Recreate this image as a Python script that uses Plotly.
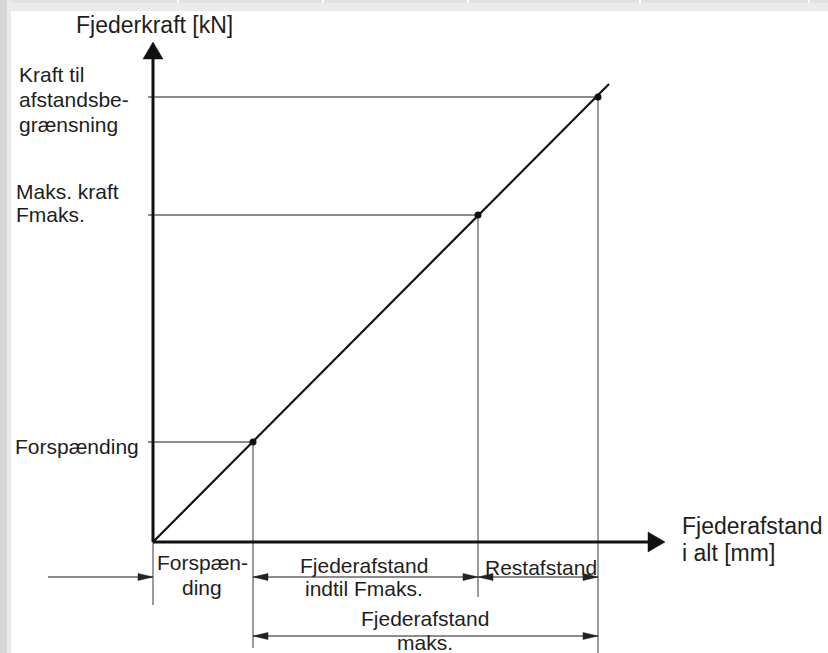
import plotly.graph_objects as go

# ---------------- data (arbitrary units, spring characteristic) ----------------
point_names = ["Forspænding", "Fmaks.", "Afstandsbegrænsning"]
deflection = [100, 325, 445]          # spring travel at the three points
force = [100, 327, 445]               # spring force at the three points
line_end = [456, 458]                 # end of the characteristic line (travel, force)
axis_len_x = 512
axis_len_y = 500

# y-axis labels: lines and y of each line
ylab_lines = [["Kraft til", "afstandsbe-", "grænsning"], ["Maks. kraft", "Fmaks."], ["Forspænding"]]
ylab_y = [[468, 443, 418], [351, 328], [96]]
ylab_x = [-136, -139, -140]

# dimension texts below the axis: lines, centre x, y of each line
dim_lines = [["Forspæn-", "ding"], ["Fjederafstand", "indtil Fmaks."], ["Restafstand"], ["Fjederafstand", "maks."]]
dim_x = [49, 211, 388, 272]
dim_y = [[-20, -45], [-23, -46], [-25], [-76, -100]]
dim_row_y = [-35, -94]

y_title = "Fjederkraft [kN]"
x_title_lines = ["Fjederafstand", "i alt [mm]"]

FONT = "Liberation Sans, Arial, sans-serif"
TXT = "#1e1e1e"
THIN = "#666666"

fig = go.Figure()


def seg(x0, y0, x1, y1, color=THIN, width=1.3):
    fig.add_trace(go.Scatter(x=[x0, x1], y=[y0, y1], mode="lines",
                             line=dict(color=color, width=width),
                             hoverinfo="skip", showlegend=False))


def head(xt, yt, dx, dy, length, half, color):
    nx, ny = -dy, dx
    xs = [xt, xt - length * dx + half * nx, xt - length * dx - half * nx, xt]
    ys = [yt, yt - length * dy + half * ny, yt - length * dy - half * ny, yt]
    fig.add_trace(go.Scatter(x=xs, y=ys, mode="lines", fill="toself",
                             fillcolor=color, line=dict(color=color, width=0.5),
                             hoverinfo="skip", showlegend=False))


# guide lines (horizontal from y-axis, vertical down to dimension lines)
v_bottom = [-106, -55, -115]
for s, f, vb in zip(deflection, force, v_bottom):
    seg(-5, f, s, f)
    seg(s, f, s, vb)
seg(0, 0, 0, -63)

# dimension arrows
seg(-105, dim_row_y[0], 0, dim_row_y[0])
head(0, dim_row_y[0], 1, 0, 15, 3.5, "#222")
seg(deflection[0], dim_row_y[0], deflection[1], dim_row_y[0])
head(deflection[0], dim_row_y[0], -1, 0, 15, 3.5, "#222")
head(deflection[1], dim_row_y[0], 1, 0, 15, 3.5, "#222")
seg(deflection[1], dim_row_y[0], deflection[2], dim_row_y[0])
head(deflection[1], dim_row_y[0], -1, 0, 15, 3.5, "#222")
head(deflection[2], dim_row_y[0], 1, 0, 15, 3.5, "#222")
seg(deflection[0], dim_row_y[1], deflection[2], dim_row_y[1])
head(deflection[0], dim_row_y[1], -1, 0, 15, 3.5, "#222")
head(deflection[2], dim_row_y[1], 1, 0, 15, 3.5, "#222")

# characteristic line
fig.add_trace(go.Scatter(x=[0, line_end[0]], y=[0, line_end[1]], mode="lines",
                         line=dict(color="#111111", width=2.2),
                         hoverinfo="skip", showlegend=False))
fig.add_trace(go.Scatter(x=deflection, y=force, mode="markers", text=point_names,
                         marker=dict(color="#111111", size=7),
                         hoverinfo="text", showlegend=False))

# axes with arrows
seg(0, 0, axis_len_x - 15, 0, color="#111111", width=3)
head(axis_len_x, 0, 1, 0, 17, 10, "#111111")
seg(0, 0, 0, axis_len_y - 15, color="#111111", width=3)
head(0, axis_len_y, 0, 1, 17, 10, "#111111")

ann = []


def txt(x, y, t, size=21, xanchor="left"):
    ann.append(dict(x=x, y=y, text=t, showarrow=False, xanchor=xanchor, yanchor="middle",
                    font=dict(family=FONT, size=size, color=TXT)))


txt(1, 517, y_title, size=23, xanchor="center")
for lines, ys, x in zip(ylab_lines, ylab_y, ylab_x):
    for t, y in zip(lines, ys):
        txt(x, y, t)
for lines, ys, x in zip(dim_lines, dim_y, dim_x):
    for t, y in zip(lines, ys):
        txt(x, y, t, xanchor="center")
for t, y in zip(x_title_lines, [16, -11]):
    txt(527, y, t, size=23)

# page frame decoration (grey strips at top and left)
W, H = 828, 653
shapes = [
    dict(type="rect", xref="paper", yref="paper", x0=0, x1=1, y0=1 - 11 / H, y1=1,
         fillcolor="#ebebeb", line=dict(width=0), layer="below"),
    dict(type="rect", xref="paper", yref="paper", x0=0, x1=1, y0=1 - 3 / H, y1=1,
         fillcolor="#e2e2e2", line=dict(width=0), layer="below"),
    dict(type="rect", xref="paper", yref="paper", x0=0, x1=11 / W, y0=0, y1=1,
         fillcolor="#ebebeb", line=dict(width=0), layer="below"),
    dict(type="rect", xref="paper", yref="paper", x0=0, x1=7 / W, y0=0, y1=1,
         fillcolor="#d6d6d6", line=dict(width=0), layer="below"),
]
for sx in [177, 322, 467, 639, 808]:
    shapes.append(dict(type="rect", xref="paper", yref="paper", x0=sx / W, x1=(sx + 2) / W,
                       y0=1 - 3 / H, y1=1, fillcolor="white", line=dict(width=0), layer="below"))

fig.update_layout(
    width=W, height=H,
    margin=dict(l=0, r=0, t=0, b=0),
    paper_bgcolor="white", plot_bgcolor="rgba(0,0,0,0)",
    xaxis=dict(range=[-153, 675], visible=False, fixedrange=True),
    yaxis=dict(range=[-111, 542], visible=False, fixedrange=True),
    annotations=ann, shapes=shapes, showlegend=False,
)
fig.write_html("out.html", config={"displayModeBar": False},
               post_script="document.body.style.margin='0';document.body.style.overflow='hidden';")
